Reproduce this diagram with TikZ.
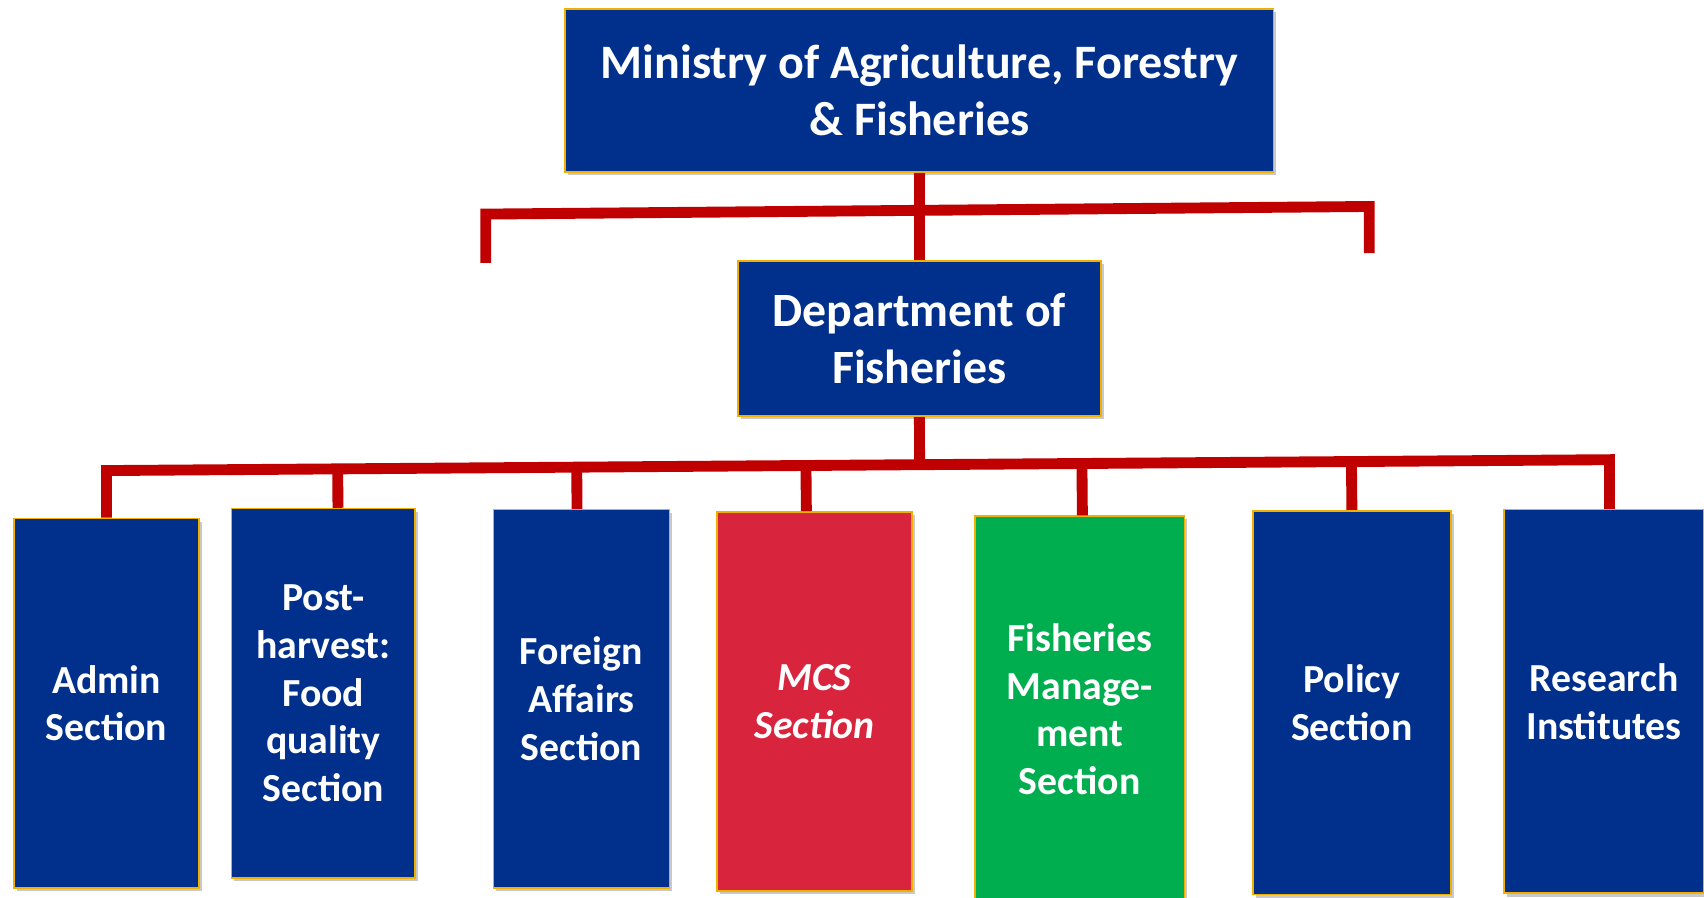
\documentclass[tikz,border=0pt]{standalone}
\usepackage{fontspec}
\setmainfont{Carlito}
\usetikzlibrary{shadows,calc}
\definecolor{boxblue}{RGB}{0,48,140}
\definecolor{boxred}{RGB}{217,36,61}
\definecolor{boxgreen}{RGB}{0,173,79}
\definecolor{boxedge}{RGB}{240,176,0}
\definecolor{connred}{RGB}{192,0,0}
\begin{document}
\begin{tikzpicture}[x=1pt,y=-1pt,
  orgbox/.style={draw=boxedge, line width=1.5pt, fill=boxblue, text=white, align=center, inner sep=0pt,
    font=\fontsize{36.6}{44}\selectfont\bfseries,
    drop shadow={shadow xshift=2.5pt,shadow yshift=-3pt,opacity=0.35,fill=black!60}},
  conn/.style={draw=connred, line width=10pt, line join=miter}]
\useasboundingbox (0,0) rectangle (1568,826);
\fill[white] (0,0) rectangle (1568,826);

% top level
\node[orgbox, minimum width=652pt, minimum height=150pt, font=\fontsize{44.2}{52}\selectfont\bfseries] (min) at (846,83) {Ministry of Agriculture, Forestry\\\& Fisheries};
\node[orgbox, minimum width=334pt, minimum height=143pt, font=\fontsize{44}{52}\selectfont\bfseries] (dep) at (846,311.5) {Department of\\Fisheries};

% sections
\node[orgbox, minimum width=170pt, minimum height=340pt] (adm) at (98,647) {Admin\\Section};
\node[orgbox, minimum width=169pt, minimum height=340pt] (ph) at (297.5,638) {Post-\\harvest:\\Food\\quality\\Section};
\node[orgbox, minimum width=162pt, minimum height=348pt] (fa) at (535,643) {Foreign\\Affairs\\Section};
\node[orgbox, fill=boxred, minimum width=179pt, minimum height=349pt, font=\fontsize{36.6}{44}\selectfont\bfseries\itshape] (mcs) at (749.5,645.5) {MCS\\Section};
\node[orgbox, fill=boxgreen, minimum width=193pt, minimum height=355pt] (fm) at (993.5,652.5) {Fisheries\\Manage-\\ment\\Section};
\node[orgbox, minimum width=182pt, minimum height=353pt] (pol) at (1244,646.5) {Policy\\Section};
\node[orgbox, minimum width=184pt, minimum height=353pt] (res) at (1476,645.5) {Research\\Institutes};

% upper bar
\coordinate (tl) at (447,197);
\coordinate (tr) at (1260,190);
\coordinate (tlb) at (447,242);
\coordinate (trb) at (1260,233);
\draw[conn] (tlb) -- (tl) -- (tr) -- (trb);
\draw[conn] (min.south) -- (dep.north);

% lower bar
\coordinate (bl) at (98,433);
\coordinate (br) at (1481,423);
\draw[conn] (adm.north) -- (bl) -- (br) -- ($(res.north)+(5,0)$);
\draw[conn] (dep.south) -- ($(bl)!(dep.south)!(br)$);
\draw[conn] ($(ph.north)+(13.5,0)$) -- ($(bl)!($(ph.north)+(13.5,0)$)!(br)$);
\draw[conn] ($(fa.north)+(-4,0)$) -- ($(bl)!($(fa.north)+(-4,0)$)!(br)$);
\draw[conn] ($(mcs.north)+(-7.5,0)$) -- ($(bl)!($(mcs.north)+(-7.5,0)$)!(br)$);
\draw[conn] ($(fm.north)+(2.5,0)$) -- ($(bl)!($(fm.north)+(2.5,0)$)!(br)$);
\draw[conn] (pol.north) -- ($(bl)!(pol.north)!(br)$);
\end{tikzpicture}
\end{document}
